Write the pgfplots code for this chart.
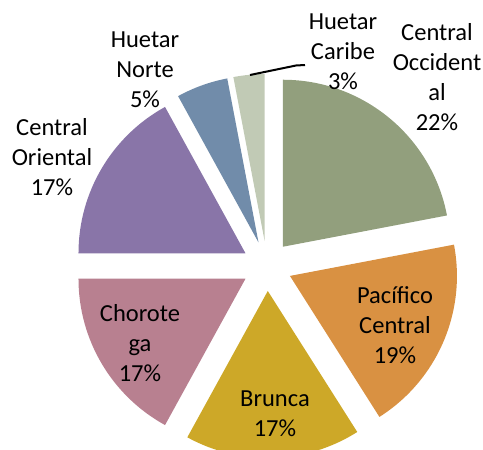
\documentclass[border=0pt]{standalone}
\usepackage{pgfplots}
\pgfplotsset{compat=1.18}
\usepackage{pgfplotstable}
\usepackage{fontspec}
\setmainfont{Carlito}
\definecolor{cCO}{RGB}{146,159,125}
\definecolor{cPC}{RGB}{217,145,66}
\definecolor{cBR}{RGB}{205,168,40}
\definecolor{cCH}{RGB}{184,128,144}
\definecolor{cOR}{RGB}{137,117,168}
\definecolor{cHN}{RGB}{113,140,170}
\definecolor{cHC}{RGB}{193,202,181}
\pgfplotstableread{
value color
22 cCO
19 cPC
17 cBR
17 cCH
17 cOR
5 cHN
3 cHC
}\piedata
\begin{document}
\begin{tikzpicture}
\path[use as bounding box, clip] (0,0) rectangle (483bp,450bp);
\begin{axis}[
  at={(0,0)}, anchor=origin,
  x=1bp, y=1bp,
  xmin=0, xmax=483, ymin=0, ymax=450,
  hide axis, clip=false,
]
\def\cum{0}
\pgfplotsforeachungrouped \i in {0,...,6}{%
  \pgfplotstablegetelem{\i}{value}\of\piedata \let\myv\pgfplotsretval
  \pgfplotstablegetelem{\i}{color}\of\piedata \let\mycol\pgfplotsretval
  \pgfmathsetmacro{\sa}{90-3.6*\cum}%
  \pgfmathsetmacro{\ea}{90-3.6*(\cum+\myv)}%
  \pgfmathsetmacro{\ma}{(\sa+\ea)/2}%
  \pgfmathsetmacro{\ax}{267+25*cos(\ma)}%
  \pgfmathsetmacro{\ay}{184+25*sin(\ma)}%
  \edef\temp{\noexpand\fill[\mycol] (axis cs:\ax,\ay) -- ++(\sa:167bp) arc[start angle=\sa, end angle=\ea, radius=167bp] -- cycle;}%
  \temp
  \pgfmathsetmacro{\cum}{\cum+\myv}%
}
\tikzset{lab/.style={align=center, text=black, inner sep=0pt, font=\fontsize{24.5bp}{30bp}\selectfont}}
\node[lab] at (axis cs:437,373) {Central\\Occident\\al\\22\%};
\node[lab] at (axis cs:343,398) {Huetar\\Caribe\\3\%};
\node[lab] at (axis cs:145,380) {Huetar\\Norte\\5\%};
\node[lab] at (axis cs:52,293) {Central\\Oriental\\17\%};
\node[lab] at (axis cs:140,107) {Chorote\\ga\\17\%};
\node[lab] at (axis cs:275,36) {Brunca\\17\%};
\node[lab] at (axis cs:395,125) {Pacífico\\Central\\19\%};
\draw[black, line width=2bp] (axis cs:250,375) -- (axis cs:296,384.5) -- (axis cs:305,385);
\end{axis}
\end{tikzpicture}
\end{document}
